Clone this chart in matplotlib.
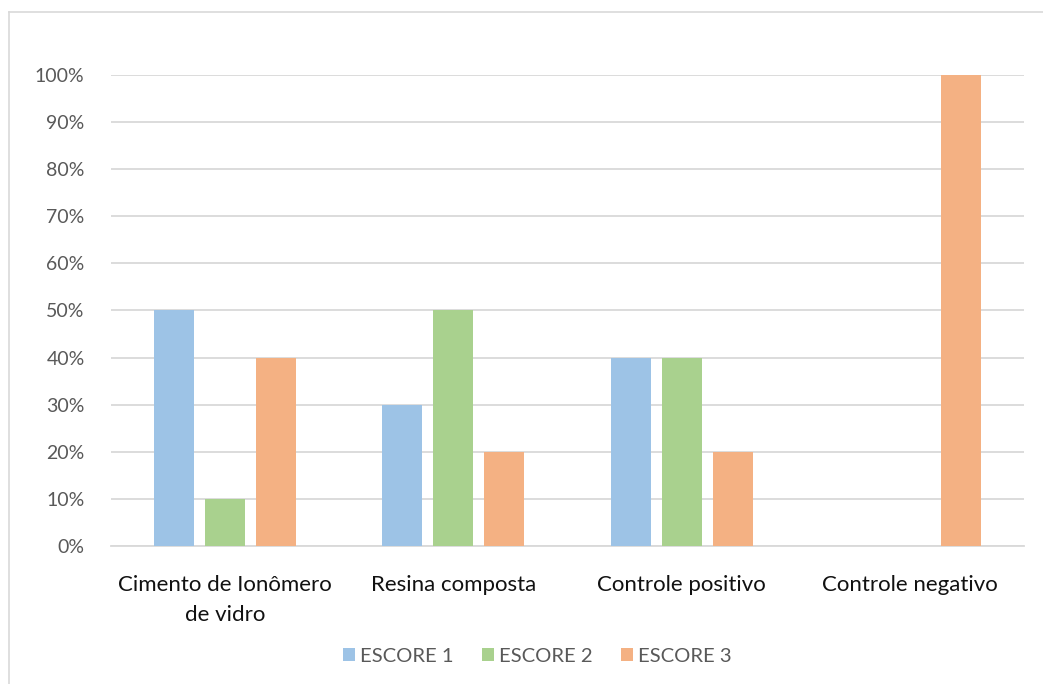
import matplotlib
matplotlib.use("Agg")
import matplotlib.pyplot as plt
import numpy as np
from matplotlib.lines import Line2D
from matplotlib.ticker import PercentFormatter

categories = ["Cimento de Ionômero\nde vidro", "Resina composta",
              "Controle positivo", "Controle negativo"]
series = ["ESCORE 1", "ESCORE 2", "ESCORE 3"]
escore1 = [0.50, 0.30, 0.40, 0.0]
escore2 = [0.10, 0.50, 0.40, 0.0]
escore3 = [0.40, 0.20, 0.20, 1.00]
colors = ["#9DC3E6", "#A9D18E", "#F4B183"]

plt.rcParams["font.family"] = ["Lato", "DejaVu Sans"]
text_color = "#595959"
grid_color = "#D9D9D9"

fig = plt.figure(figsize=(10.43, 6.84), dpi=100)
ax = fig.add_axes([0.1064, 0.2018, 0.8754, 0.6886])

x = np.arange(len(categories))
width = 0.175
step = 0.223
for i, (vals, name) in enumerate(zip([escore1, escore2, escore3], series)):
    ax.bar(x + (i - 1) * step, vals, width, color=colors[i], label=name, zorder=3)

ax.set_xlim(-0.5, len(categories) - 0.5)
ax.set_ylim(0, 1)
ax.set_yticks(np.arange(0, 1.01, 0.1))
ax.yaxis.set_major_formatter(PercentFormatter(1.0, decimals=0))
ax.set_xticks(x)
ax.set_xticklabels(categories, fontsize=16, color="#111111", linespacing=1.62)
ax.tick_params(axis="y", labelsize=14, colors=text_color, length=0, pad=19)
ax.tick_params(axis="x", length=0, pad=21)
ax.grid(axis="y", color=grid_color, linewidth=1.3, zorder=0)
for s in ["top", "right", "left"]:
    ax.spines[s].set_visible(False)
ax.spines["bottom"].set_color(grid_color)
ax.spines["bottom"].set_linewidth(1.3)

ax.legend(loc="center", bbox_to_anchor=(0.467, -0.234), ncol=3, frameon=False,
          fontsize=14.6, labelcolor=text_color, handlelength=0.6, handleheight=0.6,
          handletextpad=0.25, columnspacing=1.4)

# outer chart frame (partially visible)
fx = 9 / 1043
fy = 1 - 12 / 684
fig.add_artist(Line2D([fx, 1.0], [fy, fy], color=grid_color, linewidth=1.2))
fig.add_artist(Line2D([fx, fx], [0.0, fy], color=grid_color, linewidth=1.2))

fig.savefig("out.png", dpi=100)
